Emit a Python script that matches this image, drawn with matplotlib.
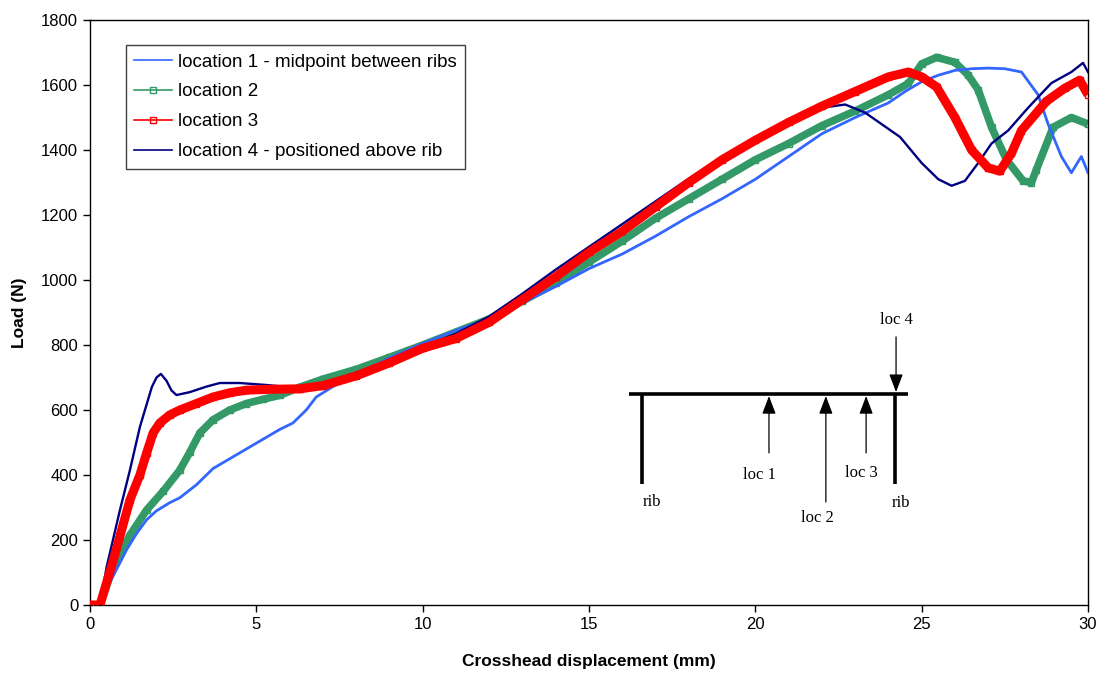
import matplotlib
matplotlib.use("Agg")
import matplotlib.pyplot as plt
from matplotlib.lines import Line2D

plt.rcParams['font.family'] = ['Liberation Sans', 'DejaVu Sans']

# ---- data ----
x_loc1 = [0, 0.3, 0.5, 0.8, 1.1, 1.4, 1.7, 2.0, 2.4, 2.7, 3.2, 3.7, 4.2, 4.7, 5.2, 5.7, 6.1, 6.5, 6.8, 7.3,
          8, 9, 10, 11, 12, 13, 14, 15, 16, 17, 18, 19, 20, 21, 22, 23, 24, 24.5, 25, 25.5, 26, 26.5, 27,
          27.5, 28, 28.5, 28.8, 29.2, 29.5, 29.8, 30]
y_loc1 = [0, 0, 50, 110, 170, 220, 262, 290, 315, 330, 370, 420, 450, 480, 510, 540, 560, 600, 640, 672,
          710, 760, 805, 845, 880, 930, 980, 1035, 1080, 1135, 1195, 1250, 1310, 1380, 1450, 1500, 1545, 1580,
          1610, 1630, 1645, 1650, 1652, 1650, 1640, 1570, 1480, 1380, 1330, 1380, 1330]

x_loc2 = [0, 0.3, 0.7, 1.2, 1.7, 2.2, 2.7, 3.0, 3.3, 3.7, 4.2, 4.7, 5.2, 5.7, 6.3, 7, 8, 9, 10, 11, 12, 13,
          14, 15, 16, 17, 18, 19, 20, 21, 22, 23, 24, 24.6, 25, 25.45, 26, 26.4, 26.7, 27.1, 27.55, 28.05,
          28.3, 28.45, 28.95, 29.5, 30]
y_loc2 = [0, 0, 117, 215, 292, 350, 415, 470, 529, 570, 600, 620, 633, 645, 670, 695, 725, 762, 800, 840,
          880, 935, 990, 1055, 1120, 1190, 1250, 1310, 1370, 1420, 1475, 1520, 1570, 1605, 1665, 1685, 1670,
          1630, 1585, 1470, 1370, 1305, 1300, 1340, 1470, 1500, 1480]

x_loc3 = [0, 0.3, 0.7, 1.2, 1.5, 1.7, 1.9, 2.1, 2.4, 2.7, 3.2, 3.7, 4.2, 4.7, 5.5, 6.3, 7, 8, 9, 10, 11, 12,
          13, 14, 15, 16, 17, 18, 19, 20, 21, 22, 23, 24, 24.6, 25, 25.45, 26, 26.5, 27, 27.35, 27.7, 28,
          28.75, 29.3, 29.75, 30]
y_loc3 = [0, 0, 138, 323, 400, 467, 530, 560, 585, 600, 620, 640, 653, 661, 664, 665, 675, 705, 745, 790,
          820, 870, 940, 1010, 1085, 1150, 1225, 1300, 1370, 1430, 1485, 1535, 1580, 1625, 1640, 1625, 1594,
          1500, 1400, 1345, 1335, 1390, 1460, 1550, 1590, 1615, 1570]

x_loc4 = [0, 0.3, 0.5, 0.9, 1.2, 1.5, 1.86, 2.0, 2.13, 2.3, 2.45, 2.6, 3.0, 3.5, 3.9, 4.5, 5.3, 5.9, 6.5,
          7, 8, 9, 10, 11, 12, 13, 14, 15, 16, 17, 18, 19, 20, 21, 22, 22.7, 23.3, 24.35, 25, 25.5, 25.9,
          26.3, 26.7, 27.1, 27.6, 28.2, 28.9, 29.5, 29.85, 30]
y_loc4 = [0, 0, 117, 292, 415, 548, 671, 700, 711, 690, 660, 646, 655, 672, 683, 683, 677, 671, 670,
          680, 712, 752, 795, 835, 888, 958, 1032, 1102, 1172, 1242, 1312, 1377, 1437, 1492, 1530, 1540,
          1515, 1440, 1360, 1310, 1290, 1305, 1360, 1420, 1460, 1530, 1606, 1640, 1668, 1640]

labels = ["location 1 - midpoint between ribs", "location 2", "location 3",
          "location 4 - positioned above rib"]
colors = ["#3366FF", "#339966", "#FF0000", "#000080"]

x_ticks = [0, 5, 10, 15, 20, 25, 30]
y_ticks = list(range(0, 1801, 200))

# ---- figure ----
fig = plt.figure(figsize=(11.01, 6.73), dpi=100)
ax = fig.add_axes([90 / 1101, 1 - 605 / 673, (1088 - 90) / 1101, (605 - 20) / 673])

ax.plot(x_loc1, y_loc1, color=colors[0], lw=2.0, zorder=3)
ax.plot(x_loc2, y_loc2, color=colors[1], lw=5.5, solid_capstyle='butt', zorder=2,
        marker='s', markersize=5, mfc='none', mec=colors[1], mew=1)
ax.plot(x_loc3, y_loc3, color=colors[2], lw=6.5, solid_capstyle='butt', zorder=4,
        marker='s', markersize=5, mfc='none', mec=colors[2], mew=1)
ax.plot(x_loc4, y_loc4, color=colors[3], lw=1.7, zorder=3.5)

ax.set_xlim(0, 30)
ax.set_ylim(0, 1800)
ax.set_xticks(x_ticks)
ax.set_yticks(y_ticks)
ax.tick_params(direction='out', length=5, width=1, labelsize=12)
for s in ax.spines.values():
    s.set_linewidth(1.0)
    s.set_color('black')

ax.set_xlabel("Crosshead displacement (mm)", fontsize=12.5, fontweight='bold', labelpad=16)
ax.set_ylabel("Load (N)", fontsize=12.5, fontweight='bold', labelpad=10)

# legend
handles = [
    Line2D([], [], color=colors[0], lw=1.2),
    Line2D([], [], color=colors[1], lw=1.2, marker='s', markersize=4, mfc='none', mec=colors[1]),
    Line2D([], [], color=colors[2], lw=1.2, marker='s', markersize=4, mfc='none', mec=colors[2]),
    Line2D([], [], color=colors[3], lw=1.2),
]
leg = ax.legend(handles, labels, loc='upper left', bbox_to_anchor=(36 / 998, 1 - 25 / 585),
                borderaxespad=0, fontsize=13.5, frameon=True, fancybox=False, framealpha=1,
                edgecolor='#404040', handlelength=2.0, handletextpad=0.3, borderpad=0.45,
                labelspacing=0.68)
leg.get_frame().set_linewidth(1.0)
leg.set_zorder(10)

# ---- inset sketch (rib / location diagram) ----
serif = ['Liberation Serif', 'DejaVu Serif']
ax.plot([16.2, 24.6], [649, 649], color='black', lw=2.6, solid_capstyle='butt', zorder=5)
ax.plot([16.59, 16.59], [649, 372], color='black', lw=2.6, solid_capstyle='butt', zorder=5)
ax.plot([24.2, 24.2], [649, 372], color='black', lw=2.6, solid_capstyle='butt', zorder=5)
arrow = dict(arrowstyle='-|>,head_length=0.5,head_width=0.19', color='black', lw=0.9,
             mutation_scale=22, shrinkA=0, shrinkB=0)
for ax_x, tail in [(20.41, 468), (22.12, 317), (23.33, 468)]:
    ax.annotate("", xy=(ax_x, 643), xytext=(ax_x, tail), arrowprops=arrow, zorder=6)
ax.annotate("", xy=(24.23, 655), xytext=(24.23, 825), arrowprops=arrow, zorder=6)
ax.text(20.11, 400, "loc 1", family=serif, fontsize=12, ha='center', va='center')
ax.text(21.88, 268, "loc 2", family=serif, fontsize=12, ha='center', va='center')
ax.text(23.2, 406, "loc 3", family=serif, fontsize=12, ha='center', va='center')
ax.text(24.23, 877, "loc 4", family=serif, fontsize=12, ha='center', va='center')
ax.text(16.89, 317, "rib", family=serif, fontsize=12, ha='center', va='center')
ax.text(24.38, 314, "rib", family=serif, fontsize=12, ha='center', va='center')

fig.savefig("out.png", dpi=100)
